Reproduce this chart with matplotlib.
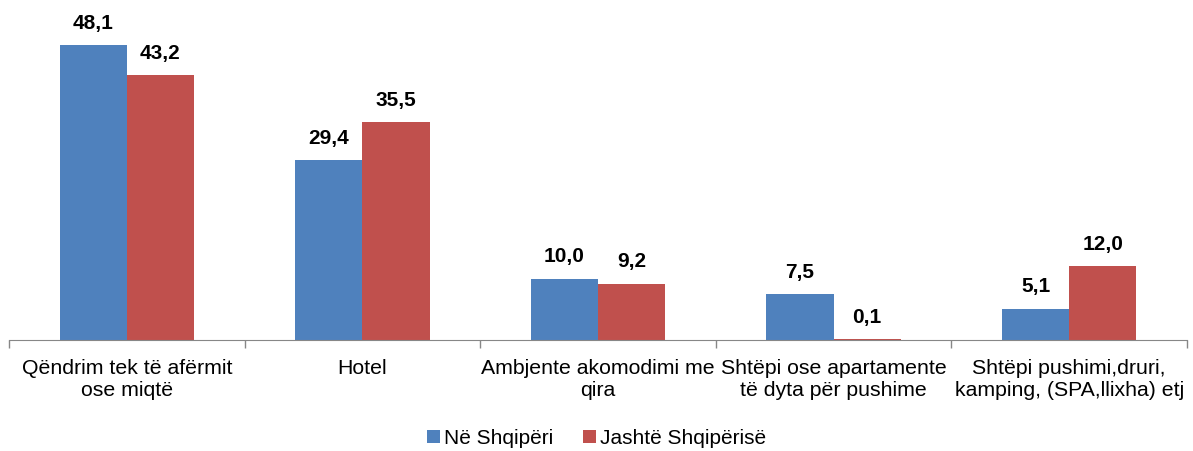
import numpy as np
import matplotlib.pyplot as plt

plt.rcParams['font.family'] = ['Liberation Sans', 'DejaVu Sans']

categories = ['Qëndrim tek të afërmit\nose miqtë', 'Hotel', 'Ambjente akomodimi me\nqira',
              'Shtëpi ose apartamente\ntë dyta për pushime', 'Shtëpi pushimi,druri,\nkamping, (SPA,llixha) etj']
ne_shqiperi = [48.1, 29.4, 10.0, 7.5, 5.1]
jashte = [43.2, 35.5, 9.2, 0.1, 12.0]
series_names = ['Në Shqipëri', 'Jashtë Shqipërisë']

fig = plt.figure(figsize=(11.93, 4.51), dpi=100)
ax = fig.add_axes([9/1193, 111/451, 1178/1193, 306.5/451])

x = np.arange(len(categories))
w = 0.285
b1 = ax.bar(x - w/2, ne_shqiperi, w, color='#4F81BD', label=series_names[0])
b2 = ax.bar(x + w/2, jashte, w, color='#C0504D', label=series_names[1])

for bars, vals in [(b1, ne_shqiperi), (b2, jashte)]:
    for r, v in zip(bars, vals):
        ax.text(r.get_x() + r.get_width()/2, v + 2.0, f'{v:.1f}'.replace('.', ','),
                ha='center', va='bottom', fontsize=15, fontweight='bold')

ax.set_xlim(-0.5, len(categories) - 0.5)
ax.set_ylim(0, 50)
for s in ['top', 'right', 'left']:
    ax.spines[s].set_visible(False)
ax.spines['bottom'].set_color('#878787')
ax.set_yticks([])
ax.set_xticks(np.arange(len(categories) + 1) - 0.5)
ax.set_xticklabels([])
ax.tick_params(axis='x', length=6, color='#878787', width=1)
ax.set_xticks(x, minor=True)
ax.set_xticklabels(categories, minor=True, fontsize=15.3, linespacing=1.2)
ax.tick_params(axis='x', which='minor', length=0, pad=14)

fig.legend(loc='lower center', bbox_to_anchor=(0.5, -0.035), ncol=2, frameon=False,
           fontsize=15, handlelength=0.62, handleheight=0.62, handletextpad=0.2, columnspacing=1.4)

fig.savefig('out.png', dpi=100)
